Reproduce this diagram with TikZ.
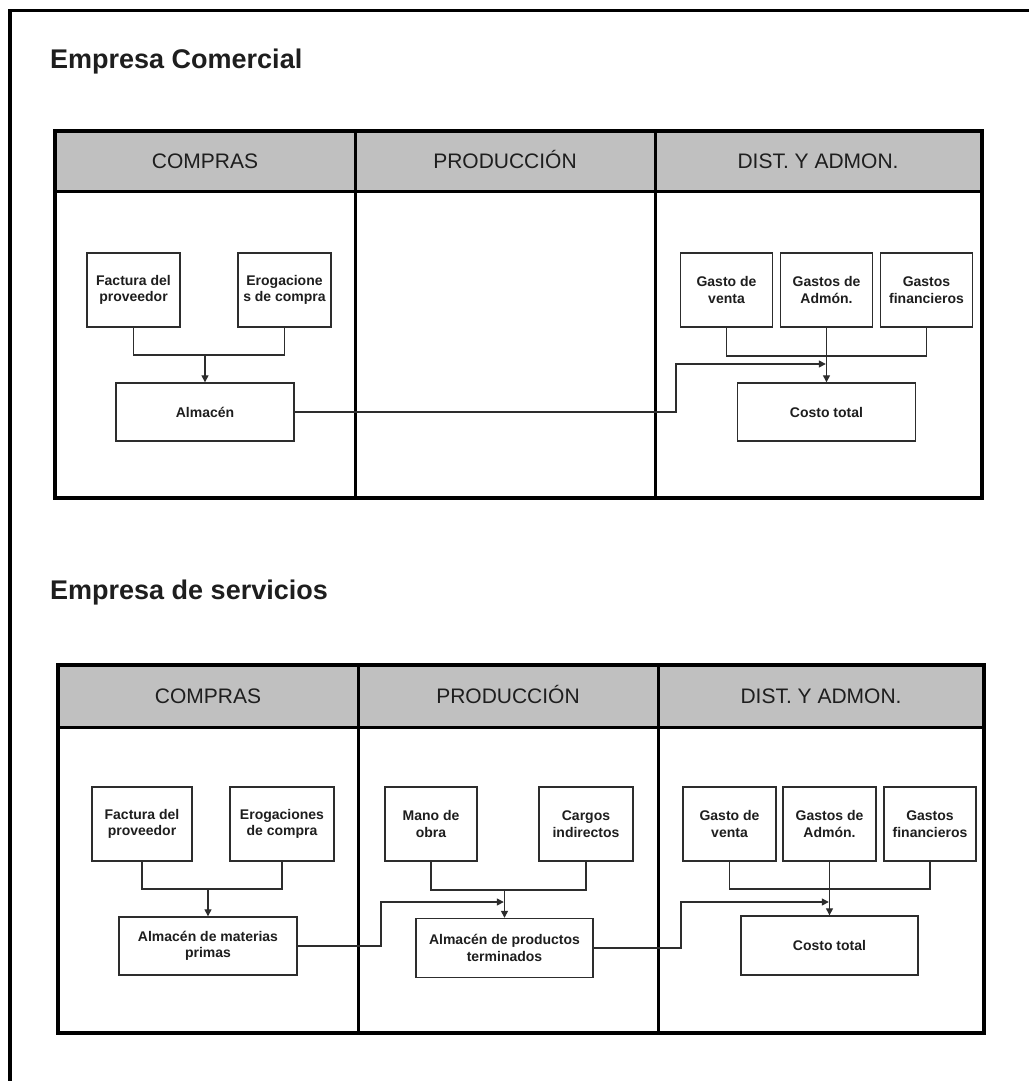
\documentclass[tikz,border=0pt]{standalone}
\usepackage{fontspec}
\setmainfont{Liberation Sans}
\usetikzlibrary{arrows.meta,calc}
\definecolor{headgray}{RGB}{192,192,192}
\definecolor{boxgray}{RGB}{45,45,45}
\definecolor{inkgray}{RGB}{30,30,30}
\begin{document}
\begin{tikzpicture}[x=1pt,y=-1pt,
  frame/.style={line width=3.5pt,black},
  lane/.style={line width=3pt,black},
  hdrtext/.style={font=\fontsize{21}{25}\selectfont,text=inkgray,
    text height=15pt,text depth=0pt,inner sep=0pt},
  box/.style={draw=boxgray,line width=1.4pt,fill=white,align=center,
    font=\bfseries\fontsize{14}{16.5}\selectfont,inner sep=1pt,text=inkgray},
  smallbox/.style={box,minimum width=93pt,minimum height=74pt},
  widebox/.style={box,minimum width=178pt,minimum height=58pt},
  link/.style={draw=boxgray,line width=1.3pt},
  arr/.style={link,-{Triangle[length=7pt,width=7pt]}},
  title/.style={font=\bfseries\fontsize{27}{32}\selectfont,anchor=base west,inner sep=0pt,text=inkgray}
]
\useasboundingbox (0,0) rectangle (1028,1081);
\fill[white] (0,0) rectangle (1028,1081);

% page frame (open to the right and bottom)
\draw[frame] (10,1100) -- (10,10.5) -- (1050,10.5);

% ---------------- Empresa Comercial ----------------
\node[title] (t1) at (50,69) {Empresa Comercial};

\fill[headgray] (55,131) rectangle (982,191);
\draw[lane] (55,191) -- (982,191);
\draw[lane] (355,131) -- (355,498);
\draw[lane] (655,131) -- (655,498);
\draw[line width=3.5pt] (55,131) rectangle (982,498);
\node[hdrtext] (h11) at (205,161) {COMPRAS};
\node[hdrtext] (h12) at (505,161) {PRODUCCIÓN};
\node[hdrtext] (h13) at (818,161) {DIST. Y ADMON.};

\node[smallbox] (fac1) at (133.5,290) {Factura del\\proveedor};
\node[smallbox] (ero1) at (284.5,290) {Erogacione\\s de compra};
\node[widebox]  (alm1) at (205,412) {Almacén};

\node[smallbox,minimum width=92pt] (gv1)  at (726.5,290) {Gasto de\\venta};
\node[smallbox,minimum width=92pt] (gad1) at (826.5,290) {Gastos de\\Admón.};
\node[smallbox,minimum width=92pt] (gf1)  at (926.5,290) {Gastos\\financieros};
\node[widebox] (cos1) at (826.5,412) {Costo total};

\coordinate (jt1) at (0,355);
\draw[link] (fac1.south) -- (fac1.south |- jt1) -- (ero1.south |- jt1) -- (ero1.south);
\draw[arr] (alm1.north |- jt1) -- (alm1.north);

\coordinate (jt2) at (0,356);
\draw[link] (gv1.south) -- (gv1.south |- jt2) -- (gf1.south |- jt2) -- (gf1.south);
\draw[arr] (gad1.south) -- (cos1.north);

\coordinate (kt1) at (676,364);
\draw[arr] (alm1.east) -| (kt1) -- ([xshift=-0.7pt]gad1.south |- kt1);

% ---------------- Empresa de servicios ----------------
\node[title] (t2) at (50,599) {Empresa de servicios};

\fill[headgray] (58,665) rectangle (984,727);
\draw[lane] (58,727) -- (984,727);
\draw[lane] (358,665) -- (358,1033);
\draw[lane] (658,665) -- (658,1033);
\draw[line width=3.5pt] (58,665) rectangle (984,1033);
\node[hdrtext] (h21) at (208,696) {COMPRAS};
\node[hdrtext] (h22) at (508,696) {PRODUCCIÓN};
\node[hdrtext] (h23) at (821,696) {DIST. Y ADMON.};

\node[smallbox,minimum width=100pt] (fac2) at (142,824) {Factura del\\proveedor};
\node[smallbox,minimum width=104pt] (ero2) at (282,824) {Erogaciones\\de compra};
\node[widebox] (alm2) at (208,946) {Almacén de materias\\primas};

\node[smallbox,minimum width=92pt] (mo2) at (431,824) {Mano de\\obra};
\node[smallbox,minimum width=94pt] (ci2) at (586,824) {Cargos\\indirectos};
\node[widebox,minimum width=177pt,minimum height=59pt] (apt2) at (504.5,948) {Almacén de productos\\terminados};

\node[smallbox] (gv2)  at (729.5,824) {Gasto de\\venta};
\node[smallbox] (gad2) at (829.5,824) {Gastos de\\Admón.};
\node[smallbox,minimum width=92pt] (gf2) at (930,824) {Gastos\\financieros};
\node[widebox,minimum width=177pt,minimum height=59pt] (cos2) at (829.5,945.5) {Costo total};

\coordinate (jb1) at (0,889);
\draw[link] (fac2.south) -- (fac2.south |- jb1) -- (ero2.south |- jb1) -- (ero2.south);
\draw[arr] (alm2.north |- jb1) -- (alm2.north);

\coordinate (jb2) at (0,890);
\draw[link] (mo2.south) -- (mo2.south |- jb2) -- (ci2.south |- jb2) -- (ci2.south);
\draw[arr] (apt2.north |- jb2) -- (apt2.north);

\coordinate (jb3) at (0,889);
\draw[link] (gv2.south) -- (gv2.south |- jb3) -- (gf2.south |- jb3) -- (gf2.south);
\draw[arr] (gad2.south) -- (cos2.north);

\coordinate (kb1) at (381,902);
\draw[arr] (alm2.east) -| (kb1) -- ([xshift=-0.7pt]apt2.north |- kb1);
\coordinate (kb2) at (681,902);
\draw[arr] (apt2.east) -| (kb2) -- ([xshift=-0.7pt]gad2.south |- kb2);
\end{tikzpicture}
\end{document}
